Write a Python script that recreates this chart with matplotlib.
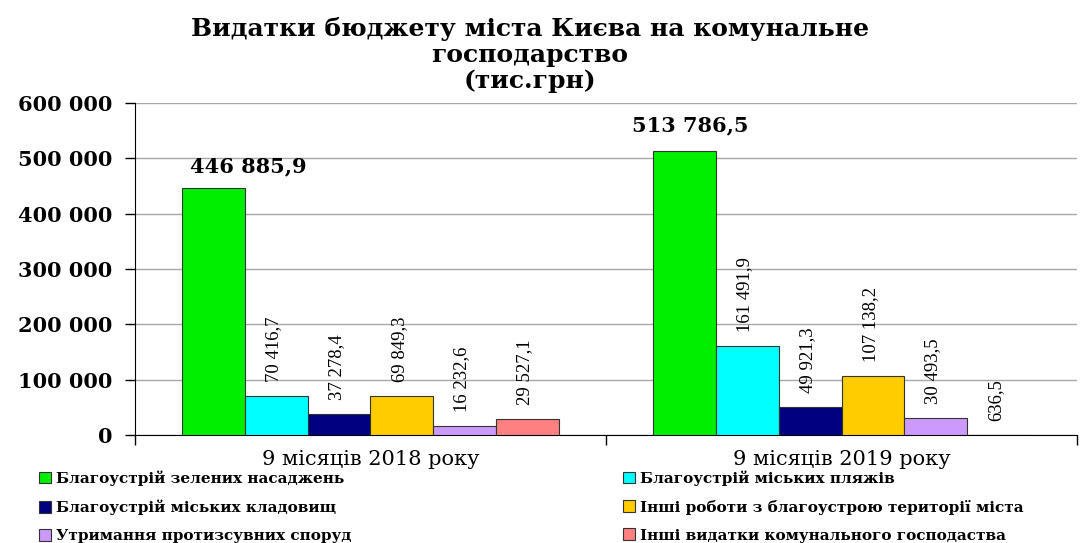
import numpy as np
import matplotlib
matplotlib.use('Agg')
import matplotlib.pyplot as plt
from matplotlib.ticker import FuncFormatter, FixedLocator

periods = ['9 місяців 2018 року', '9 місяців 2019 року']
items = [
    'Благоустрій зелених насаджень',
    'Благоустрій міських пляжів',
    'Благоустрій міських кладовищ',
    'Інші роботи з благоустрою території міста',
    'Утримання протизсувних споруд',
    'Інші видатки комунального господаства',
]
values_2018 = [446885.9, 70416.7, 37278.4, 69849.3, 16232.6, 29527.1]
values_2019 = [513786.5, 161491.9, 49921.3, 107138.2, 30493.5, 636.5]
colors = ['#00EE00', '#00FFFF', '#000080', '#FFCC00', '#CC99FF', '#FF8080']

fig = plt.figure(figsize=(10.92, 5.43), dpi=100)
ax = fig.add_axes([0.1236, 0.199, 0.8627, 0.6113])

def fmt_val(v):
    return f'{v:,.1f}'.replace(',', ' ').replace('.', ',')

x = np.arange(len(periods))
w = 0.8 / len(items)
big_dx = [25, 4]
big_dy = [8, 11]
handles = []
for i, name in enumerate(items):
    vals = [values_2018[i], values_2019[i]]
    pos = x - 0.4 + w * (i + 0.5)
    b = ax.bar(pos, vals, w, color=colors[i], edgecolor='#333333', linewidth=0.8,
               label=name, zorder=3)
    handles.append(b)
    for j, (p, v) in enumerate(zip(pos, vals)):
        if i == 0:
            ax.annotate(fmt_val(v), (p, v), xytext=(big_dx[j], big_dy[j]),
                        textcoords='offset points', ha='center', va='bottom',
                        fontsize=15, fontweight='bold', family='DejaVu Serif')
        else:
            ax.annotate(fmt_val(v), (p, v), xytext=(-2, 10), textcoords='offset points',
                        ha='center', va='bottom', rotation=90, fontsize=13.5,
                        family='Liberation Serif')

ax.set_xlim(-0.5, 1.5)
ax.set_ylim(0, 600000)
ax.yaxis.set_major_locator(FixedLocator(np.arange(0, 600001, 100000)))
ax.yaxis.set_major_formatter(FuncFormatter(lambda v, _: f'{int(v):,}'.replace(',', ' ')))
ax.yaxis.grid(True, color='#A8A8A8', linewidth=1, zorder=0)
ax.tick_params(axis='y', direction='out', length=7, width=1, pad=9)
for t in ax.get_yticklabels():
    t.set_fontfamily('DejaVu Serif')
    t.set_fontweight('bold')
    t.set_fontsize(15)

ax.set_xticks(x)
ax.set_xticklabels(periods, fontsize=15, family='DejaVu Serif')
ax.set_xticks([-0.5, 0.5, 1.5], minor=True)
ax.tick_params(axis='x', which='major', length=0, pad=11)
ax.tick_params(axis='x', which='minor', direction='out', length=7, width=1)

ax.spines['top'].set_visible(False)
ax.spines['right'].set_visible(False)
ax.spines['left'].set_color('black')
ax.spines['bottom'].set_color('black')

fig.text(0.485, 0.968, 'Видатки бюджету міста Києва на комунальне\nгосподарство\n(тис.грн)',
         ha='center', va='top', fontsize=18, fontweight='bold', family='DejaVu Serif',
         linespacing=1.1)

order = [0, 2, 4, 1, 3, 5]
leg = fig.legend([handles[k] for k in order], [items[k] for k in order],
                 loc='upper left', bbox_to_anchor=(0.03, 0.145), ncol=2, frameon=False,
                 handlelength=0.8, handleheight=0.8, handletextpad=0.3,
                 labelspacing=0.9, columnspacing=17.8, borderaxespad=0,
                 prop={'family': 'DejaVu Serif', 'weight': 'bold', 'size': 11})

fig.savefig('out.png', dpi=100)
